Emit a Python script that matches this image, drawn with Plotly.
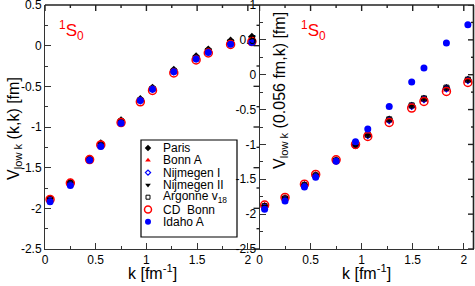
import plotly.graph_objects as go

# ---------------- data ----------------
k = [0.05, 0.25, 0.44, 0.55, 0.75, 0.94, 1.06, 1.27, 1.49, 1.61, 1.83, 2.04]

names = ["Paris", "Bonn A", "Nijmegen I", "Nijmegen II", "Argonne v<sub>18</sub>", "CD  Bonn", "Idaho A"]

# left panel: V_lowk(k,k)
diag_paris = [-1.88, -1.68, -1.39, -1.20, -0.915, -0.655, -0.515, -0.295, -0.13, -0.045, 0.065, 0.11]
diag_bonnA = [-1.88, -1.685, -1.395, -1.21, -0.93, -0.67, -0.53, -0.31, -0.145, -0.06, 0.05, 0.08]
diag_nijm1 = [-1.90, -1.70, -1.40, -1.225, -0.94, -0.675, -0.535, -0.32, -0.16, -0.075, 0.03, 0.06]
diag_nijm2 = [-1.89, -1.69, -1.395, -1.215, -0.925, -0.665, -0.525, -0.305, -0.14, -0.055, 0.055, 0.09]
diag_av18 = [-1.885, -1.69, -1.40, -1.215, -0.93, -0.67, -0.53, -0.31, -0.15, -0.065, 0.045, 0.08]
diag_cdbonn = [-1.89, -1.69, -1.40, -1.22, -0.945, -0.69, -0.55, -0.335, -0.175, -0.09, 0.015, 0.05]
diag_idaho = [-1.92, -1.72, -1.41, -1.24, -0.955, -0.675, -0.535, -0.32, -0.165, -0.085, 0.017, 0.04]

# right panel: V_lowk(0.056 fm, k)
off_paris = [-1.88, -1.77, -1.58, -1.44, -1.225, -1.01, -0.86, -0.64, -0.445, -0.345, -0.19, -0.07]
off_bonnA = [-1.87, -1.76, -1.575, -1.435, -1.22, -1.00, -0.875, -0.665, -0.46, -0.365, -0.22, -0.09]
off_nijm1 = [-1.90, -1.79, -1.595, -1.455, -1.235, -1.01, -0.87, -0.655, -0.45, -0.355, -0.20, -0.08]
off_nijm2 = [-1.89, -1.78, -1.59, -1.45, -1.235, -1.02, -0.865, -0.645, -0.445, -0.345, -0.19, -0.075]
off_av18 = [-1.885, -1.775, -1.585, -1.445, -1.23, -1.015, -0.86, -0.64, -0.44, -0.34, -0.185, -0.07]
off_cdbonn = [-1.87, -1.76, -1.57, -1.43, -1.22, -1.00, -0.885, -0.684, -0.478, -0.383, -0.24, -0.11]
off_idaho = [-1.93, -1.81, -1.61, -1.47, -1.24, -0.96, -0.78, -0.455, -0.105, 0.096, 0.455, 0.717]

diag_series = [diag_paris, diag_bonnA, diag_nijm1, diag_nijm2, diag_av18, diag_cdbonn, diag_idaho]
off_series = [off_paris, off_bonnA, off_nijm1, off_nijm2, off_av18, off_cdbonn, off_idaho]

x_ticks = [0, 0.5, 1, 1.5, 2]
x_ticklabels = ["0", "0.5", "1", "1.5", "2"]
x_minor = [0.25, 0.75, 1.25, 1.75]
yl_ticks = [-2.5, -2, -1.5, -1, -0.5, 0, 0.5]
yl_ticklabels = ["-2.5", "-2", "-1.5", "-1", "-0.5", "0", "0.5"]
yl_minor = [-2.25, -1.75, -1.25, -0.75, -0.25, 0.25]
yr_ticks = [-2.5, -2, -1.5, -1, -0.5, 0, 0.5, 1]
yr_ticklabels = ["-2.5", "-2", "-1.5", "-1", "-0.5", "0", "0.5", "1"]
yr_minor = [-2.25, -1.75, -1.25, -0.75, -0.25, 0.25, 0.75]

# ---------------- styles ----------------
styles = [
    dict(symbol="diamond", size=6, color="black", line=dict(width=0)),
    dict(symbol="triangle-up", size=6, color="red", line=dict(width=0)),
    dict(symbol="diamond-open", size=5, color="blue", line=dict(width=1.2, color="blue")),
    dict(symbol="triangle-down", size=6, color="black", line=dict(width=0)),
    dict(symbol="square-open", size=5, color="black", line=dict(width=1, color="black")),
    dict(symbol="circle-open", size=8, color="red", line=dict(width=1.5, color="red")),
    dict(symbol="circle", size=7, color="blue", line=dict(width=0)),
]
leg_styles = [dict(s, size=max(s["size"] - 1, 4)) for s in styles]

W, H = 475, 286
FONT = "Liberation Sans, Arial, Helvetica, sans-serif"
AX = "#333"
MAJ, MIN = 6, 3


def px(x):
    return x / W


def py(y):
    return 1 - y / H


fig = go.Figure()

for i in range(len(names)):
    fig.add_trace(go.Scatter(x=k, y=diag_series[i], mode="markers", marker=styles[i],
                             xaxis="x", yaxis="y", showlegend=False, name=names[i]))
for i in range(len(names)):
    fig.add_trace(go.Scatter(x=k, y=off_series[i], mode="markers", marker=styles[i],
                             xaxis="x2", yaxis="y2", showlegend=False, name=names[i]))

# legend built on an inset axis
leg_x0, leg_x1, leg_top, leg_bot = 141, 237, 140, 237
n = len(names)
leg_h = leg_bot - leg_top
row_gap = 12.3
first_row = 8
leg_y = [leg_h - first_row - i * row_gap for i in range(n)]
for i in range(n):
    fig.add_trace(go.Scatter(x=[7], y=[leg_y[i]], mode="markers", marker=leg_styles[i],
                             xaxis="x3", yaxis="y3", showlegend=False, hoverinfo="skip"))
    fig.add_annotation(x=20, y=leg_y[i], xref="x3", yref="y3", text=names[i],
                       showarrow=False, xanchor="left", yanchor="middle",
                       font=dict(family=FONT, size=12, color="black"))

fig.add_shape(type="rect", xref="paper", yref="paper",
              x0=px(leg_x0), x1=px(leg_x1), y0=py(leg_bot), y1=py(leg_top),
              line=dict(color="black", width=1.2), fillcolor="rgba(0,0,0,0)", layer="above")

minor_common = dict(ticks="inside", ticklen=MIN, tickcolor=AX, dtick=0.25, tick0=0, showgrid=False)
axis_common = dict(
    showline=True, linecolor=AX, linewidth=1, mirror=False,
    ticks="inside", ticklen=MAJ, tickcolor=AX, tickwidth=1,
    showgrid=False, zeroline=False, ticklabeloverflow="allow",
    tickfont=dict(family=FONT, size=12, color="black"),
    minor=minor_common,
)

x0l, x1l = 45, 259.5
x0r, x1r = 259.5, 474
ytop, ybot = 5, 249

fig.update_layout(
    width=W, height=H,
    margin=dict(l=0, r=0, t=0, b=0, autoexpand=False),
    paper_bgcolor="white", plot_bgcolor="rgba(0,0,0,0)",
    font=dict(family=FONT, size=12, color="black"),
    xaxis=dict(domain=[px(x0l), px(x1l)], range=[0, 2.115], anchor="y",
               tickvals=x_ticks, ticktext=x_ticklabels, **axis_common),
    yaxis=dict(domain=[py(ybot), py(ytop)], range=[-2.5, 0.5], anchor="x",
               tickvals=yl_ticks, ticktext=yl_ticklabels, **axis_common),
    xaxis2=dict(domain=[px(x0r), px(x1r)], range=[0, 2.1], anchor="y2",
                tickvals=x_ticks, ticktext=x_ticklabels, **axis_common),
    yaxis2=dict(domain=[py(ybot), py(ytop)], range=[-2.5, 1.0], anchor="x2",
                tickvals=yr_ticks, ticktext=yr_ticklabels, **axis_common),
    xaxis3=dict(domain=[px(leg_x0), px(leg_x1)], range=[0, leg_x1 - leg_x0], anchor="y3",
                visible=False, fixedrange=True),
    yaxis3=dict(domain=[py(leg_bot), py(leg_top)], range=[0, leg_h], anchor="x3",
                visible=False, fixedrange=True),
)

# frame lines and mirrored ticks on top / right sides
line_style = dict(color="#222", width=1.6)
fig.add_shape(type="line", xref="paper", yref="paper", x0=px(x0l), x1=px(x1r),
              y0=py(ytop), y1=py(ytop), line=line_style, layer="above")
fig.add_shape(type="line", xref="paper", yref="paper", x0=px(x1r - 0.5), x1=px(x1r - 0.5),
              y0=py(ytop), y1=py(ybot), line=line_style, layer="above")
tick_style = dict(color="#222", width=1.4)
for xr, yr_, xright, yticks, yminor in (("x", "y", x1l, yl_ticks, yl_minor),
                                         ("x2", "y2", x1r, yr_ticks, yr_minor)):
    for vals, ln in ((x_ticks, MAJ), (x_minor, MIN)):
        for t in vals:
            fig.add_shape(type="line", xref=xr, yref="paper", x0=t, x1=t,
                          y0=py(ytop), y1=py(ytop + ln), line=tick_style, layer="above")
    for vals, ln in ((yticks, MAJ), (yminor, MIN)):
        for t in vals:
            fig.add_shape(type="line", xref="paper", yref=yr_, x0=px(xright), x1=px(xright - ln),
                          y0=t, y1=t, line=tick_style, layer="above")

title_font = dict(family=FONT, size=16, color="black")
# axis titles
fig.add_annotation(x=px(152), y=py(272), xref="paper", yref="paper", showarrow=False,
                   xanchor="center", yanchor="middle",
                   text="k [fm<sup>-1</sup>]", font=title_font)
fig.add_annotation(x=px(366), y=py(272), xref="paper", yref="paper", showarrow=False,
                   xanchor="center", yanchor="middle",
                   text="k [fm<sup>-1</sup>]", font=title_font)
fig.add_annotation(x=px(14), y=py(129), xref="paper", yref="paper", showarrow=False, textangle=-90,
                   xanchor="center", yanchor="middle",
                   text="V<sub>low k</sub> (k,k) [fm]", font=title_font)
fig.add_annotation(x=px(281), y=py(91), xref="paper", yref="paper", showarrow=False, textangle=-90,
                   xanchor="center", yanchor="middle",
                   text="V<sub>low k</sub> (0.056 fm,k) [fm]", font=title_font)

# 1S0 labels
for cx in (71, 313):
    fig.add_annotation(x=px(cx), y=py(31), xref="paper", yref="paper", showarrow=False,
                       xanchor="center", yanchor="middle",
                       text="<sup>1</sup>S<sub>0</sub>", font=dict(family=FONT, size=17, color="red"))

fig.write_html("out.html", config={"displayModeBar": False},
               post_script="document.body.style.margin='0';document.body.style.overflow='hidden';")
